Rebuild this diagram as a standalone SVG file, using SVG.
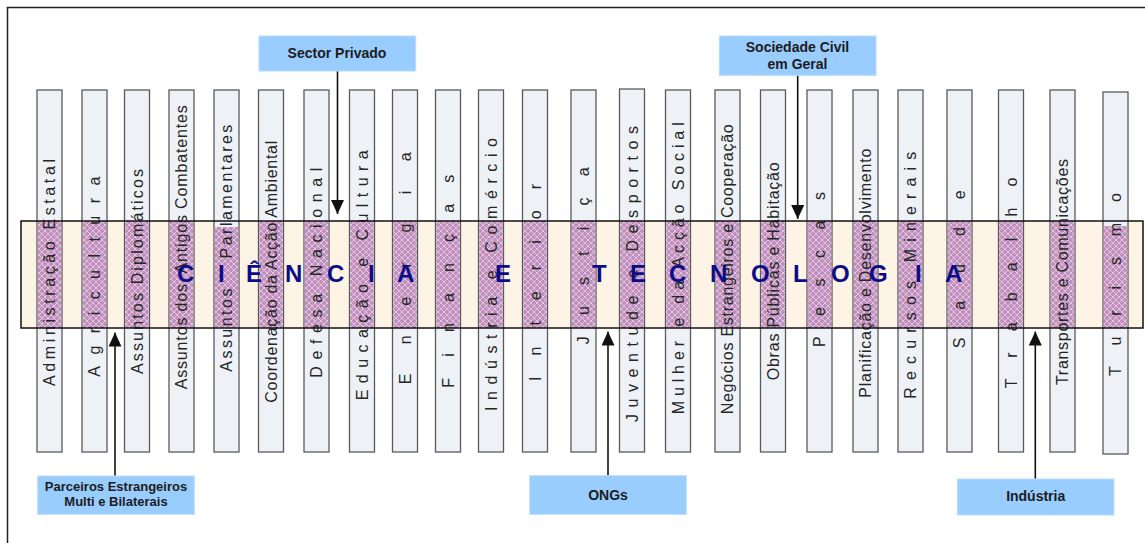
<svg xmlns="http://www.w3.org/2000/svg" width="1145" height="543" viewBox="0 0 1145 543">
<style>
.col{fill:#eef2f7;stroke:#5a5a5a;stroke-width:1.3}
.hatch{fill:url(#lattice)}
.ct{font-family:"Liberation Sans",Arial,sans-serif;font-size:16px;fill:#262626;white-space:pre}
.box{fill:#99ccff;stroke:#b8dcff;stroke-width:1}
.bt{font-family:"Liberation Sans",Arial,sans-serif;font-size:14px;font-weight:bold;fill:#1c1c1c;text-anchor:middle}
.bt13{font-size:13px}
.arr{stroke:#111;stroke-width:1.6;fill:none;marker-end:url(#ah)}
.title{font-family:"Liberation Sans",Arial,sans-serif;font-size:24px;font-weight:bold;fill:#0c0c88;white-space:pre}
</style>
<defs>
<pattern id="lattice" patternUnits="userSpaceOnUse" width="6" height="6">
<rect width="6" height="6" fill="#c08fbd"/>
<path d="M0,0 L6,6 M6,0 L0,6" stroke="#efdcec" stroke-width="0.7"/>
</pattern>
<marker id="ah" markerUnits="userSpaceOnUse" markerWidth="14" markerHeight="13" refX="14" refY="6.5" orient="auto">
<path d="M0,0 L14,6.5 L0,13 z" fill="#111"/>
</marker>
</defs>
<rect width="1145" height="543" fill="#ffffff"/>
<g id="frame"><path d="M7.5,543 L7.5,7.5 L1145,7.5" fill="none" stroke="#222" stroke-width="1.5"/></g>
<g id="band-fill"><rect x="21" y="221" width="1122" height="107" fill="#fdf4e6"/></g>

<g id="col1"><rect class="col" x="37" y="90" width="25" height="362"/><rect class="hatch" x="37.7" y="221" width="23.6" height="107"/><text class="ct" transform="translate(55,386) rotate(-90)" textLength="227" lengthAdjust="spacing">Administração Estatal</text></g>
<g id="col2"><rect class="col" x="82" y="90" width="25" height="362"/><rect class="hatch" x="82.7" y="221" width="23.6" height="107"/><text class="ct" transform="translate(100.25,376.7) rotate(-90)" textLength="200" lengthAdjust="spacing">A g r i c u l t u r a</text></g>
<g id="col3"><rect class="col" x="124.5" y="90" width="25" height="362"/><rect class="hatch" x="125.2" y="221" width="23.6" height="107"/><text class="ct" transform="translate(142.5,374) rotate(-90)" textLength="205" lengthAdjust="spacing">Assuntos Diplomáticos</text></g>
<g id="col4"><rect class="col" x="169" y="90" width="25" height="362"/><rect class="hatch" x="169.7" y="221" width="23.6" height="107"/><text class="ct" transform="translate(187.25,389.3) rotate(-90)" textLength="284" lengthAdjust="spacing">Assuntos dos  Antigos Combatentes</text></g>
<g id="col5"><rect class="col" x="214" y="90" width="25" height="362"/><rect class="hatch" x="214.7" y="227" width="23.6" height="101"/><text class="ct" transform="translate(232,371.7) rotate(-90)" textLength="247" lengthAdjust="spacing">Assuntos    Parlamentares</text></g>
<g id="col6"><rect class="col" x="258.5" y="90" width="25" height="362"/><rect class="hatch" x="259.2" y="221" width="23.6" height="107"/><text class="ct" transform="translate(276.5,402.7) rotate(-90)" textLength="262" lengthAdjust="spacing">Coordenação da Acção Ambiental</text></g>
<g id="col7"><rect class="col" x="304" y="90" width="25" height="362"/><rect class="hatch" x="304.7" y="221" width="23.6" height="107"/><text class="ct" transform="translate(322.25,377.7) rotate(-90)" textLength="210" lengthAdjust="spacing">D e f e s a   N a c i o n a l</text></g>
<g id="col8"><rect class="col" x="349.5" y="90" width="25" height="362"/><rect class="hatch" x="350.2" y="221" width="23.6" height="107"/><text class="ct" transform="translate(367.5,400.3) rotate(-90)" textLength="250" lengthAdjust="spacing">E d u c a ç ã o   e   C u l t u r a</text></g>
<g id="col9"><rect class="col" x="392.5" y="90" width="25" height="362"/><rect class="hatch" x="393.2" y="221" width="23.6" height="107"/><text class="ct" transform="translate(410.5,384.3) rotate(-90)" textLength="232" lengthAdjust="spacing">E n e r g i a</text></g>
<g id="col10"><rect class="col" x="435.5" y="90" width="25" height="362"/><rect class="hatch" x="436.2" y="221" width="23.6" height="107"/><text class="ct" transform="translate(453.5,387.7) rotate(-90)" textLength="213" lengthAdjust="spacing">F i n a n ç a s</text></g>
<g id="col11"><rect class="col" x="478.5" y="90" width="25" height="362"/><rect class="hatch" x="479.2" y="221" width="23.6" height="107"/><text class="ct" transform="translate(496.5,411) rotate(-90)" textLength="273" lengthAdjust="spacing">I n d ú s t r i a   e   C o m é r c i o</text></g>
<g id="col12"><rect class="col" x="522.5" y="90" width="25" height="362"/><rect class="hatch" x="523.2" y="221" width="23.6" height="107"/><text class="ct" transform="translate(540.5,381) rotate(-90)" textLength="197" lengthAdjust="spacing">I n t e r i o r</text></g>
<g id="col13"><rect class="col" x="571" y="90" width="25" height="362"/><rect class="hatch" x="571.7" y="221" width="23.6" height="107"/><text class="ct" transform="translate(589,344.3) rotate(-90)" textLength="177" lengthAdjust="spacing">J u s t i ç a</text></g>
<g id="col14"><rect class="col" x="619.5" y="89" width="25" height="363"/><rect class="hatch" x="620.2" y="221" width="23.6" height="107"/><text class="ct" transform="translate(637.5,422) rotate(-90)" textLength="296" lengthAdjust="spacing">J u v e n t u d e   e   D e s p o r t o s</text></g>
<g id="col15"><rect class="col" x="665.5" y="90" width="25" height="362"/><rect class="hatch" x="666.2" y="221" width="23.6" height="107"/><text class="ct" transform="translate(683.5,414.3) rotate(-90)" textLength="292" lengthAdjust="spacing">M u l h e r   e   d a   A c ç ã o   S o c i a l</text></g>
<g id="col16"><rect class="col" x="715" y="90" width="25" height="362"/><rect class="hatch" x="715.7" y="221" width="23.6" height="107"/><text class="ct" transform="translate(733.25,414.3) rotate(-90)" textLength="290" lengthAdjust="spacing">Negócios Estrangeiros e Cooperação</text></g>
<g id="col17"><rect class="col" x="760.5" y="90" width="25" height="362"/><rect class="hatch" x="761.2" y="221" width="23.6" height="107"/><text class="ct" transform="translate(778.5,380.3) rotate(-90)" textLength="218" lengthAdjust="spacing">Obras Públicas e Habitação</text></g>
<g id="col18"><rect class="col" x="807" y="90" width="25" height="362"/><rect class="hatch" x="807.7" y="221" width="23.6" height="107"/><text class="ct" transform="translate(825,347) rotate(-90)" textLength="155" lengthAdjust="spacing">P e s c a s</text></g>
<g id="col19"><rect class="col" x="853" y="90" width="25" height="362"/><rect class="hatch" x="853.7" y="221" width="23.6" height="107"/><text class="ct" transform="translate(871.25,397.7) rotate(-90)" textLength="249" lengthAdjust="spacing">Planificação e Desenvolvimento</text></g>
<g id="col20"><rect class="col" x="898" y="90" width="25" height="362"/><rect class="hatch" x="898.7" y="221" width="23.6" height="107"/><text class="ct" transform="translate(916,398.7) rotate(-90)" textLength="247" lengthAdjust="spacing">R e c u r s o s   M i n e r a i s</text></g>
<g id="col21"><rect class="col" x="947" y="90" width="25" height="362"/><rect class="hatch" x="947.7" y="221" width="23.6" height="107"/><text class="ct" transform="translate(965,348.3) rotate(-90)" textLength="158" lengthAdjust="spacing">S a ú d e</text></g>
<g id="col22"><rect class="col" x="998.5" y="90" width="25" height="362"/><rect class="hatch" x="999.2" y="221" width="23.6" height="107"/><text class="ct" transform="translate(1016.5,388.3) rotate(-90)" textLength="210.7" lengthAdjust="spacing">T r a b a l h o</text></g>
<g id="col23"><rect class="col" x="1050" y="90" width="25" height="362"/><rect class="hatch" x="1050.7" y="221" width="23.6" height="107"/><text class="ct" transform="translate(1068.25,385) rotate(-90)" textLength="226" lengthAdjust="spacing">Transportes e Comunicações</text></g>
<g id="col24"><rect class="col" x="1103" y="92" width="25" height="362"/><rect class="hatch" x="1103.7" y="226" width="23.6" height="102"/><text class="ct" transform="translate(1121,376) rotate(-90)" textLength="183" lengthAdjust="spacing">T u r i s m o</text></g>

<g id="band"><rect x="21" y="221" width="1122" height="107" fill="none" stroke="#111" stroke-width="1.5"/>
<text class="title" x="177 197 218 232 246 266 285 305 327 347 368 382 397 420 445 470 495 518 543 568 592 612 630 650 669 690 710 731 751 775 793 812 831 852 869 895 915 930 945" y="282">C I Ê N C I A   E   T E C N O L O G I A</text></g>

<g id="connectors">
<line class="arr" x1="337.5" y1="71" x2="337.5" y2="214"/>
<line class="arr" x1="797.7" y1="75" x2="797.7" y2="219"/>
<line class="arr" x1="115" y1="476" x2="115" y2="332.5"/>
<line class="arr" x1="608" y1="476" x2="608" y2="331.5"/>
<line class="arr" x1="1035.3" y1="479" x2="1035.3" y2="331.5"/>
</g>

<g id="sector-privado"><rect class="box" x="259" y="36" width="156.7" height="35"/><text class="bt" x="337" y="58">Sector Privado</text></g>
<g id="sociedade-civil"><rect class="box" x="719.3" y="36" width="156.7" height="39.3"/><text class="bt" x="797.5" y="52">Sociedade Civil</text><text class="bt" x="797.5" y="68.5">em Geral</text></g>
<g id="parceiros"><rect class="box" x="37.7" y="476" width="156.6" height="38.3"/><text class="bt bt13" x="116" y="491">Parceiros Estrangeiros</text><text class="bt bt13" x="116" y="506">Multi e Bilaterais</text></g>
<g id="ongs"><rect class="box" x="529.7" y="475.7" width="156.6" height="38.6"/><text class="bt" x="608" y="499.5">ONGs</text></g>
<g id="industria"><rect class="box" x="957.3" y="479" width="156.7" height="36"/><text class="bt" x="1035.7" y="501">Indústria</text></g>
</svg>
